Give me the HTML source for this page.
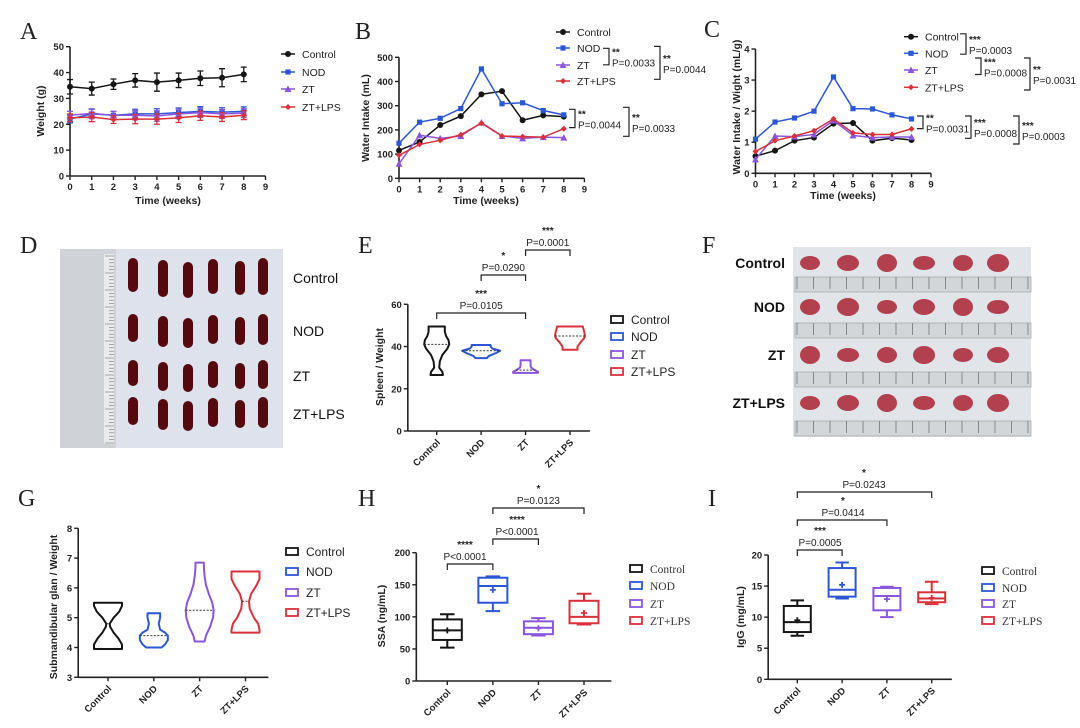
<!DOCTYPE html>
<html><head><meta charset="utf-8"><style>
html,body{margin:0;padding:0;background:#fff;}
svg{display:block;font-family:"Liberation Sans",Arial,sans-serif;}
.pl{font-family:"Liberation Serif",serif;font-size:24px;fill:#222;}
.tk{font-size:9.5px;font-weight:bold;fill:#222;}
.ti{font-size:10.5px;font-weight:bold;fill:#222;}
.lg{font-size:10.5px;fill:#222;}
.lg2{font-size:12px;fill:#222;}
.lgs{font-family:"Liberation Serif",serif;font-size:11.5px;fill:#333;}
.st{font-size:10px;fill:#222;}
.ph{font-size:14px;fill:#111;}
</style></head><body>
<svg id="fig" width="1080" height="728" viewBox="0 0 1080 728" xmlns="http://www.w3.org/2000/svg">
<rect width="1080" height="728" fill="#fff"/>
<text class="pl" x="20" y="39">A</text>
<text class="pl" x="355" y="39">B</text>
<text class="pl" x="704" y="37">C</text>
<text class="pl" x="20" y="253">D</text>
<text class="pl" x="358" y="253">E</text>
<text class="pl" x="702" y="253">F</text>
<text class="pl" x="18" y="506">G</text>
<text class="pl" x="358" y="506">H</text>
<text class="pl" x="708" y="506">I</text>
<g id="root"></g>
</svg>
<script>
const NS='http://www.w3.org/2000/svg';
const root=document.getElementById('root');
function el(tag,attrs,txt){const e=document.createElementNS(NS,tag);for(const k in attrs)e.setAttribute(k,attrs[k]);if(txt!==undefined)e.textContent=txt;root.appendChild(e);return e;}

// ---------- data ----------
const groups=['Control','NOD','ZT','ZT+LPS'];
const weeks=[0,1,2,3,4,5,6,7,8];
const weekTicks=[0,1,2,3,4,5,6,7,8,9];
const aControl=[34.5,33.8,35.5,37,36.3,37,37.8,38,39.3];
const aNOD=[22,24,23.5,24,24,24.5,25,24.7,25];
const aZT=[23.5,24.2,23.5,23.5,23.2,24,24.5,24,24.3];
const aLPS=[22.5,22.8,21.8,22,22,22.5,23.3,22.8,23.5];
const aErrControl=[2.8,2.5,2,2.6,3.5,2.8,2.8,3.5,2.8];
const aErrOther=[1.5,1.8,1.5,1.8,2,1.8,1.8,1.7,1.7];
const aTicks=[0,10,20,30,40,50];
const bControl=[115,150,220,257,347,360,240,260,255];
const bNOD=[145,232,248,288,452,308,312,280,262];
const bZT=[60,178,165,175,230,175,165,170,168];
const bLPS=[95,140,157,180,228,175,172,170,205];
const bTicks=[0,100,200,300,400,500];
const cControl=[0.55,0.73,1.05,1.15,1.6,1.62,1.05,1.13,1.07];
const cNOD=[1.1,1.65,1.78,2.0,3.1,2.08,2.07,1.88,1.75];
const cZT=[0.45,1.2,1.18,1.25,1.7,1.22,1.15,1.17,1.17];
const cLPS=[0.7,1.05,1.2,1.37,1.75,1.3,1.25,1.25,1.43];
const cTicks=[0,1,2,3,4];
const eY=[[26.5,28,30,33,36,39,41,43,45,47,49.5],[34.5,35.5,37,38,39,40,40.7],[27.5,28,29,30,31,32,33.5],[38.5,40,42,44,45,47,49.5]];
const eD=[[0.5,0.45,0.2,0.25,0.45,0.85,1,0.95,0.75,0.65,0.65],[0.3,0.4,0.8,1,0.6,0.5,0.5],[1,1,0.7,0.45,0.4,0.4,0.4],[0.5,0.5,0.7,0.95,1,0.95,0.85]];
const eMed=[41,38,28.8,45];
const eTicks=[0,20,40,60];
const gY=[[3.95,4.1,4.3,4.5,4.7,4.8,5.0,5.2,5.4,5.5],[4.0,4.1,4.25,4.4,4.5,4.6,4.8,5.0,5.15],[4.2,4.4,4.7,5.0,5.25,5.5,5.8,6.1,6.4,6.7,6.85],[4.5,4.6,4.8,5.0,5.3,5.55,5.8,6.1,6.3,6.45,6.55]];
const gD=[[1,1,0.75,0.4,0.15,0.12,0.4,0.8,1,1],[0.55,0.8,1,1,0.8,0.45,0.35,0.45,0.45],[0.35,0.45,0.75,0.95,1,0.9,0.65,0.45,0.35,0.3,0.3],[1,1,0.9,0.6,0.3,0.25,0.4,0.8,1,1,1]];
const gMed=[4.8,4.4,5.25,5.55];
const gTicks=[3,4,5,6,7,8];
const hMin=[52,109,71,88],hQ1=[64,122,73,90],hMed=[79,148,83,100],hQ3=[96,161,93,125],hMax=[104,163,98,136],hMean=[79,142,82,106];
const hTicks=[0,50,100,150,200];
const iMin=[7,13,10,12.1],iQ1=[7.6,13.3,11.1,12.4],iMed=[9.2,14.4,13.4,13],iQ3=[11.8,17.9,14.7,14],iMax=[12.7,18.8,14.9,15.7],iMean=[9.5,15.2,12.9,13.1];
const iTicks=[0,5,10,15,20];

const colors=['#151515','#2b57d6','#8b55e0','#d9303a'];
const lin=(d0,d1,r0,r1)=>v=>r0+(v-d0)*(r1-r0)/(d1-d0);

function axes(xs,ys,xMinV,xMaxV,yTicks,xTicks,id){
  const y0=ys(yTicks[0]),yTop=ys(yTicks[yTicks.length-1]),x0=xs(xMinV),x1=xs(xMaxV);
  let e=el('line',{x1:x0,y1:y0,x2:x0,y2:yTop,stroke:'#222','stroke-width':1.6});
  
  
  e=el('line',{x1:x0,y1:y0,x2:x1,y2:y0,stroke:'#222','stroke-width':1.6});
  
  
  yTicks.forEach(t=>{
    let k=el('line',{x1:x0-4,y1:ys(t),x2:x0,y2:ys(t),stroke:'#222','stroke-width':1.4});
    
    
    let l=el('text',{x:x0-6,y:ys(t)+3.5,'text-anchor':'end',class:'tk'},t);
    
    
  });
  if(xTicks) xTicks.forEach(t=>{
    let k=el('line',{x1:xs(t),y1:y0,x2:xs(t),y2:y0+4,stroke:'#222','stroke-width':1.4});
    
    
    let l=el('text',{x:xs(t),y:y0+14,'text-anchor':'middle',class:'tk'},t);
    
    
  });
}
function ytitle(x,y,txt,id){const e=el('text',{x:x,y:y,'text-anchor':'middle',class:'ti',transform:`rotate(-90 ${x} ${y})`},txt);
  
  }
function xtitle(x,y,txt,id){const e=el('text',{x:x,y:y,'text-anchor':'middle',class:'ti'},txt);
  
  }
function marker(gi,x,y,s){
  const c=colors[gi];let e;
  if(gi===0)e=el('circle',{cx:x,cy:y,r:s,fill:c});
  else if(gi===1)e=el('rect',{x:x-s,y:y-s,width:2*s,height:2*s,fill:c});
  else if(gi===2)e=el('polygon',{points:`${x},${y-s-0.5} ${x+s+0.5},${y+s} ${x-s-0.5},${y+s}`,fill:c});
  else e=el('polygon',{points:`${x},${y-s} ${x+s},${y} ${x},${y+s} ${x-s},${y}`,fill:c});
  return e;
}
function series(xs,ys,vals,gi,id,errs){
  const pts=vals.map((v,i)=>xs(weeks[i])+','+ys(v)).join(' ');
  if(errs){vals.forEach((v,i)=>{
    const x=xs(weeks[i]);
    let b=el('path',{d:`M${x},${ys(v-errs[i])}V${ys(v+errs[i])}M${x-3},${ys(v-errs[i])}h6M${x-3},${ys(v+errs[i])}h6`,stroke:colors[gi],'stroke-width':1.3,fill:'none'});
    
    
  });}
  let l=el('polyline',{points:pts,fill:'none',stroke:colors[gi],'stroke-width':1.5});
  
  
  vals.forEach((v,i)=>{
    let m=marker(gi,xs(weeks[i]),ys(v),gi===1?2.6:3);
    
    
  });
}
function lineLegend(x,yArr,id){
  groups.forEach((g,i)=>{
    let l=el('line',{x1:x-7,y1:yArr[i],x2:x+7,y2:yArr[i],stroke:colors[i],'stroke-width':1.5});
    
    
    let m=marker(i,x,yArr[i],i===1?2.6:3);
    
    
    let t=el('text',{x:x+14,y:yArr[i]+4,class:'lg'},g);
    
    
  });
}
function boxLegend(x,yArr,id,cls){
  groups.forEach((g,i)=>{
    let r=el('rect',{x:x,y:yArr[i]-4,width:12,height:7,fill:'none',stroke:colors[i],'stroke-width':1.8});
    
    
    let t=el('text',{x:x+20,y:yArr[i]+4,class:cls},g);
    
    
  });
}
function rbr(x,y1,y2,stars,p,id){
  let b=el('path',{d:`M${x-6},${y1}H${x}V${y2}H${x-6}`,fill:'none',stroke:'#222','stroke-width':1.2});
  
  
  const m=(y1+y2)/2;
  let s=el('text',{x:x+3,y:m-1,class:'st','font-weight':'bold'},stars);
  
  
  let t=el('text',{x:x+3,y:m+10,class:'st'},p);
  
  
}
function tbr(x1,x2,y,stars,p,id,tx){
  let b=el('path',{d:`M${x1},${y+6}V${y}H${x2}V${y+6}`,fill:'none',stroke:'#222','stroke-width':1.2});
  
  
  const cx=tx!==undefined?tx:(x1+x2)/2;
  let s=el('text',{x:cx,y:y-16,'text-anchor':'middle',class:'st','font-weight':'bold'},stars);
  
  
  let t=el('text',{x:cx,y:y-4,'text-anchor':'middle',class:'st'},p);
  
  
}
function catLabels(xs,y0,id){
  groups.forEach((g,i)=>{
    const x=xs(i)+4,y=y0+12;
    let t=el('text',{x:x,y:y,'text-anchor':'end',class:'tk',transform:`rotate(-45 ${x} ${y})`},g);
    
    
    let k=el('line',{x1:xs(i),y1:y0,x2:xs(i),y2:y0+4,stroke:'#222','stroke-width':1.4});
    
    
  });
}
function violin(cx,ys,yv,dv,mh,gi,med,id){
  const r=yv.map((v,i)=>`${cx+dv[i]*mh},${ys(v)}`);
  const l=yv.map((v,i)=>`${cx-dv[i]*mh},${ys(v)}`).reverse();
  let p=el('polygon',{points:r.concat(l).join(' '),fill:'none',stroke:colors[gi],'stroke-width':2,'stroke-linejoin':'round'});
  
  
  let w=mh*0.5;for(let i=0;i<yv.length-1;i++){if(med>=yv[i]&&med<=yv[i+1]){const f=(med-yv[i])/(yv[i+1]-yv[i]);w=(dv[i]+f*(dv[i+1]-dv[i]))*mh;}}
  let m=el('line',{x1:cx-w,y1:ys(med),x2:cx+w,y2:ys(med),stroke:'#333','stroke-width':1,'stroke-dasharray':'2,1.5'});
  
  
}
function box(cx,ys,i,mn,q1,md,q3,mx,mean,bw,id){
  const c=colors[i];
  let wk=el('path',{d:`M${cx},${ys(q3)}V${ys(mx)}M${cx-bw/4},${ys(mx)}h${bw/2}M${cx},${ys(q1)}V${ys(mn)}M${cx-bw/4},${ys(mn)}h${bw/2}`,stroke:c,'stroke-width':2,fill:'none'});
  
  
  let b=el('rect',{x:cx-bw/2,y:ys(q3),width:bw,height:ys(q1)-ys(q3),fill:'none',stroke:c,'stroke-width':2});
  
  
  let m=el('line',{x1:cx-bw/2,y1:ys(md),x2:cx+bw/2,y2:ys(md),stroke:c,'stroke-width':2});
  
  
  let p=el('path',{d:`M${cx-3},${ys(mean)}h6M${cx},${ys(mean)-3}v6`,stroke:c,'stroke-width':1.8});
  
  
}

// ---------- Panel A ----------
{const xs=lin(0,9,70,265.5),ys=lin(0,50,176,46.7);
axes(xs,ys,0,9,aTicks,weekTicks,'a');
ytitle(44,111,'Weight (g)','a');xtitle(168,204,'Time (weeks)','a');
series(xs,ys,aControl,0,'a',aErrControl);series(xs,ys,aNOD,1,'a',aErrOther);
series(xs,ys,aZT,2,'a',aErrOther);series(xs,ys,aLPS,3,'a',aErrOther);
lineLegend(288,[54,72,89,107],'a');}
// ---------- Panel B ----------
{const xs=lin(0,9,399,584.4),ys=lin(0,500,178.3,57.3);
axes(xs,ys,0,9,bTicks,weekTicks,'b');
ytitle(369,118,'Water Intake (mL)','b');xtitle(486,204,'Time (weeks)','b');
series(xs,ys,bControl,0,'b');series(xs,ys,bNOD,1,'b');series(xs,ys,bZT,2,'b');series(xs,ys,bLPS,3,'b');
lineLegend(563,[32,48,65,81],'b');
rbr(609,48.3,64.8,'**','P=0.0033','b');rbr(660,46.4,79.3,'**','P=0.0044','b');
rbr(575,109.3,127.6,'**','P=0.0044','b');rbr(629,107.3,136.3,'**','P=0.0033','b');}
// ---------- Panel C ----------
{const xs=lin(0,9,755.5,931),ys=lin(0,4,173.3,49);
axes(xs,ys,0,9,cTicks,weekTicks,'c');
ytitle(740,107,'Water Intake / Wight (mL/g)','c');xtitle(843,199,'Time (weeks)','c');
series(xs,ys,cControl,0,'c');series(xs,ys,cNOD,1,'c');series(xs,ys,cZT,2,'c');series(xs,ys,cLPS,3,'c');
lineLegend(911,[36.7,53.3,70,87.3],'c');
rbr(966,33.8,54.2,'***','P=0.0003','c');rbr(981,58,74.5,'***','P=0.0008','c');rbr(1030,58,90,'**','P=0.0031','c');
rbr(923,116,128.6,'**','P=0.0031','c');rbr(971,116,138.3,'***','P=0.0008','c');rbr(1019,116,144,'***','P=0.0003','c');}

// ---------- Panel D photo ----------
{let bg=el('rect',{x:60,y:249,width:223,height:199,fill:'#dde2ec'});


let ru=el('rect',{x:60,y:249,width:56,height:199,fill:'#cfd3d8'});


let rs=el('rect',{x:104,y:254,width:10,height:190,fill:'#e9ebee'});


for(let k=0;k<=55;k++){let t=el('line',{x1:k%5?109:105,y1:256+k*3.4,x2:114,y2:256+k*3.4,stroke:'#777','stroke-width':0.6});

}
const dx=[133,163,188,213,240,263],dy=[277,330,375,413],dh=[34,28,26,28];
dy.forEach((y,r)=>dx.forEach((x,c)=>{let s=el('rect',{x:x-5,y:y-dh[r]/2+((c*7)%5)-2,width:10,height:dh[r]+((c*3)%4),rx:5,fill:'#55090e'});

}));
['Control','NOD','ZT','ZT+LPS'].forEach((g,r)=>{let t=el('text',{x:293,y:dy[r]+6,class:'ph'},g);

});}

// ---------- Panel F photo ----------
{let bg=el('rect',{x:793,y:247,width:238,height:190,fill:'#e1e5e9'});


const fy=[263,307,355,403],ry=[277,323,372,421],fx=[810,848,887,924,963,998];
ry.forEach(y=>{let r=el('rect',{x:795,y:y,width:236,height:15,fill:'#d3d6d9',stroke:'#999','stroke-width':0.6});


for(let k=0;k<=14;k++){let t=el('line',{x1:797+k*16.5,y1:y,x2:797+k*16.5,y2:y+12,stroke:'#666','stroke-width':0.7});

}});
fy.forEach((y,r)=>fx.forEach((x,c)=>{let s=el('ellipse',{cx:x,cy:y,rx:10+(c%2),ry:7+((c+r)%3),fill:'#b3404f'});

}));
['Control','NOD','ZT','ZT+LPS'].forEach((g,r)=>{let t=el('text',{x:785,y:fy[r]+5,'text-anchor':'end',class:'ph','font-weight':'bold'},g);

});}

// ---------- Panel E ----------
{const xs=lin(0,3,436.7,570),ys=lin(0,60,431,304.3),mh=[12.5,19,12.5,15];
axes(xs,ys,-0.65,3.45,eTicks,null,'e');catLabels(xs,431,'e');
ytitle(383,367,'Spleen / Weight','e');
groups.forEach((g,i)=>violin(xs(i),ys,eY[i],eD[i],mh[i],i,eMed[i],'e'));
tbr(xs(0),xs(2),313,'***','P=0.0105','e');tbr(xs(1),xs(2),275,'*','P=0.0290','e');tbr(xs(2),xs(3),250,'***','P=0.0001','e');
boxLegend(611,[320,337,355,372],'e','lg2');}
// ---------- Panel G ----------
{const xs=lin(0,3,108,245.5),ys=lin(3,8,677.3,528.3);
axes(xs,ys,-0.65,3.5,gTicks,null,'g');catLabels(xs,677.3,'g');
ytitle(57,607,'Submandibular glan / Weight','g');
groups.forEach((g,i)=>violin(xs(i),ys,gY[i],gD[i],14,i,gMed[i],'g'));
boxLegend(286,[552,572,593,613],'g','lg2');}
// ---------- Panel H ----------
{const xs=lin(0,3,447.3,584),ys=lin(0,200,681,552.7);
axes(xs,ys,-0.68,3.6,hTicks,null,'h');catLabels(xs,681,'h');
ytitle(385,616,'SSA (ng/mL)','h');
groups.forEach((g,i)=>box(xs(i),ys,i,hMin[i],hQ1[i],hMed[i],hQ3[i],hMax[i],hMean[i],29,'h'));
tbr(xs(0),xs(1),564,'****','P<0.0001','h',465);tbr(xs(1),xs(2),539,'****','P<0.0001','h',517);tbr(xs(1),xs(3),508,'*','P=0.0123','h');
boxLegend(630,[569,586,604,621],'h','lgs');}
// ---------- Panel I ----------
{const xs=lin(0,3,797.3,931.7),ys=lin(0,20,679.3,555);
axes(xs,ys,-0.65,3.45,iTicks,null,'i');catLabels(xs,679.3,'i');
ytitle(744,617,'IgG (mg/mL)','i');
groups.forEach((g,i)=>box(xs(i),ys,i,iMin[i],iQ1[i],iMed[i],iQ3[i],iMax[i],iMean[i],27,'i'));
tbr(xs(0),xs(1),550,'***','P=0.0005','i',820);tbr(xs(0),xs(2),520,'*','P=0.0414','i',843);tbr(xs(0),xs(3),492,'*','P=0.0243','i',864);
boxLegend(982,[571,588,604,621],'i','lgs');}
</script>
</body></html>
